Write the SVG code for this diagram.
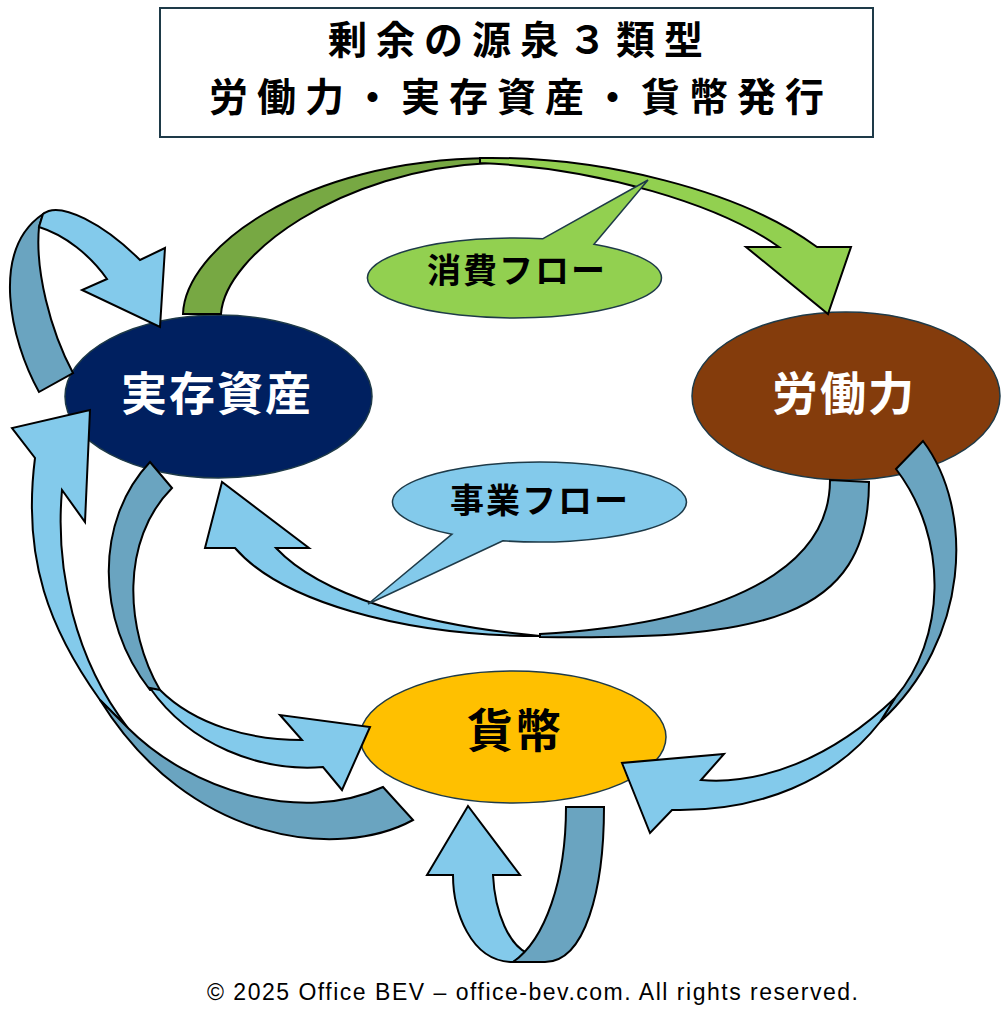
<svg xmlns="http://www.w3.org/2000/svg" width="1002" height="1024" viewBox="0 0 1002 1024">
<style>
.jp{font-family:"Noto Sans CJK JP","Noto Sans",sans-serif;font-weight:700;text-anchor:middle}
.node{stroke:#1E3A48;stroke-width:1.5}
.front{fill:#83CAEB;stroke:#000;stroke-width:2;stroke-linejoin:miter}
.back{fill:#6AA4C0;stroke:#000;stroke-width:2;stroke-linejoin:miter}
.gfront{fill:#92D050;stroke:#000;stroke-width:2}
.gback{fill:#77A843;stroke:#000;stroke-width:2}
</style>
<rect width="1002" height="1024" fill="#fff"/>
<g id="title">
<rect x="160" y="8" width="713" height="129" fill="#fff" stroke="#1E3A48" stroke-width="2"/>
<text class="jp" x="520" y="54" font-size="39" letter-spacing="9" fill="#000">剰余の源泉３類型</text>
<text class="jp" x="521" y="111" font-size="39" letter-spacing="9" fill="#000">労働力・実存資産・貨幣発行</text>
</g>
<g id="node-jitsuzon">
<ellipse class="node" cx="218.5" cy="396.5" rx="153.5" ry="81.5" fill="#002060"/>
<text class="jp" x="217" y="410" font-size="46" letter-spacing="2" fill="#fff">実存資産</text>
</g>
<g id="node-roudou">
<ellipse class="node" cx="846" cy="396" rx="154" ry="84" fill="#843C0C"/>
<text class="jp" x="844" y="410" font-size="46" letter-spacing="2" fill="#fff">労働力</text>
</g>
<g id="node-kahei">
<ellipse class="node" cx="513" cy="737" rx="153" ry="66" fill="#FFC000"/>
<text class="jp" x="515" y="747" font-size="46" letter-spacing="2" fill="#000">貨幣</text>
</g>
<g id="connectors">
<!-- top green: 実存資産 -> 労働力 -->
<path class="gback" d="M183,314 C185,250 300,160 490,158 L490,163 C340,170 225,255 221,314 Z"/>
<path class="gfront" d="M480,158 C600,156 740,190 817,247 L851,247 L828,314 L746,247 L779,247 C720,205 600,168 480,163 Z"/>
<!-- top-left self loop on 実存資産 -->
<path class="back" d="M39,392 L73,373 C50,330 35,270 39,227 L43,214 C-10,250 10,340 39,392 Z"/>
<path class="front" d="M43,214 C60,200 105,225 140,260 L165,248 L160,327 L82,290 L107,279 C90,255 65,235 39,227 Z"/>
<!-- 労働力 -> 実存資産 (事業フロー) -->
<path class="back" d="M540,637 C760,640 869,620 869,482 L830,480 C830,580 700,625 540,634 Z"/>
<path class="front" d="M540,636 C400,636 280,600 235,548 L205,548 L222,482 L309,548 L276,548 C320,595 420,625 540,636 Z"/>
<!-- 労働力 -> 貨幣 -->
<path class="back" d="M896,469 L923,441 C975,510 970,640 880,722 L895,698 C945,640 950,540 896,469 Z"/>
<path class="front" d="M895,698 C830,760 760,785 701,780 L724,754 L622,763 L650,833 L672,810 C760,812 835,780 880,722 Z"/>
<!-- 貨幣 -> 実存資産 (outer left) -->
<path class="front" d="M100,700 C50,630 22,560 35,458 L12,428 L90,410 L85,522 L62,490 C55,570 75,660 128,728 Z"/>
<path class="back" d="M383,787 L413,820 C340,860 190,845 100,700 L128,728 C190,790 300,825 383,787 Z"/>
<!-- 実存資産 -> 貨幣 (inner left) -->
<path class="back" d="M150,462 L172,488 C120,540 125,630 160,690 L150,690 C95,620 95,520 150,462 Z"/>
<path class="front" d="M150,688 C190,745 260,772 323,767 L342,790 L370,727 L280,715 L302,740 C250,740 195,725 160,690 Z"/>
<!-- 貨幣 self loop -->
<path class="front" d="M513,962 C470,962 453,910 453,875 L427,875 L468,806 L520,875 L493,875 C495,915 510,945 527,953 Z"/>
<path class="back" d="M566,807 L604,807 C604,890 585,962 545,962 L513,962 C545,940 566,880 566,807 Z"/>
</g>
<g id="callout-shouhi">
<path d="M543,238.7 L648,180 L594,244.3 A147,40 0 1 1 543,238.7 Z" fill="#92D050" stroke="#1E3A48" stroke-width="1.5"/>
<text class="jp" x="517" y="283" font-size="34" letter-spacing="2" fill="#000">消費フロー</text>
</g>
<g id="callout-jigyou">
<path d="M503,540.8 L368,604 L452,534.2 A147,40 0 1 1 503,540.8 Z" fill="#83CAEB" stroke="#1E3A48" stroke-width="1.5"/>
<text class="jp" x="540" y="513" font-size="34" letter-spacing="2" fill="#000">事業フロー</text>
</g>
<text x="207" y="1000" font-family="'Liberation Sans',Arial,sans-serif" font-size="23" textLength="651" lengthAdjust="spacing" fill="#000">© 2025 Office BEV – office-bev.com. All rights reserved.</text>
</svg>
